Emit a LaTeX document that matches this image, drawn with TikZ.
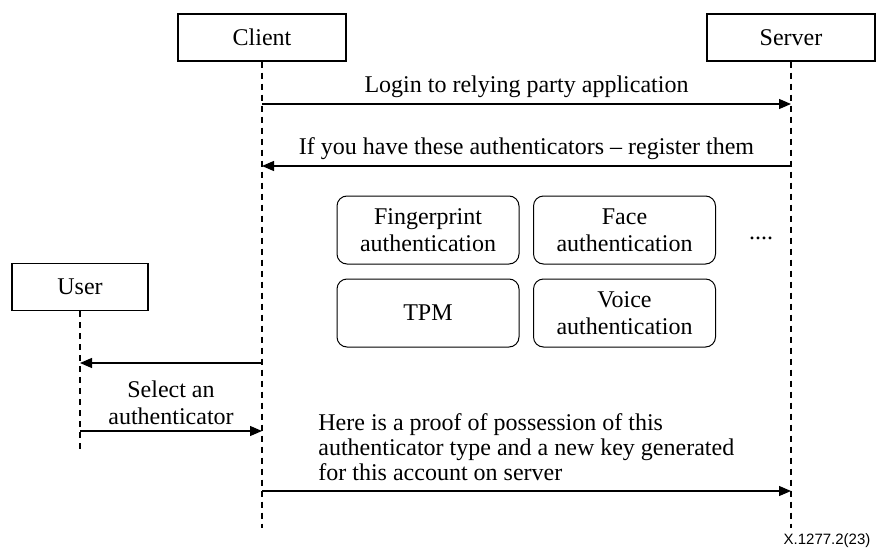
\documentclass[tikz,border=0pt]{standalone}
\usepackage{fontspec}
\setmainfont{Liberation Serif}
\setsansfont{Liberation Sans}
\usetikzlibrary{arrows.meta}
\tikzset{>={Triangle[length=6pt,width=5pt]}}
\tikzset{
  party/.style={draw, line width=0.6pt, minimum height=23.5pt, inner sep=0pt},
  lifeline/.style={dashed, dash pattern=on 3pt off 2.5pt, line width=0.6pt},
  msg/.style={->, line width=0.6pt},
  kind/.style={draw, rounded corners=5pt, line width=0.5pt, minimum width=91pt,
    minimum height=34pt, align=center, inner sep=1pt}
}

\begin{document}
\begin{tikzpicture}[x=0.5pt,y=-0.5pt,font=\fontsize{12}{13.5}\selectfont]
            \useasboundingbox (0,0) rectangle (877,551);
            % parties
            \node[party, minimum width=84pt] (client) at (262,37.5) {Client};
            \node[party, minimum width=84pt] (server) at (791,37.5) {Server};
            \node[party, minimum width=68pt] (user) at (80,287) {User};
            \coordinate (clientend) at (262,528);
            \coordinate (serverend) at (791,528);
            \coordinate (userend) at (80,450);
            \foreach \p in {client,server,user}
                \draw[lifeline] (\p.south) -- (\p end);
            % authenticator kinds
            \node[kind] (finger) at (428,230) {Fingerprint\\authentication};
            \node[kind] (face) at (624.5,230) {Face\\authentication};
            \node[kind] (tpm) at (428,313) {TPM};
            \node[kind] (voice) at (624.5,313) {Voice\\authentication};
            \node (more) at (761,238) {....};
            % messages
            \draw[msg] (client |- 0,104) -- node[above, inner sep=3pt] {Login to relying party application} (server |- 0,104);
            \draw[msg] (server |- 0,166) -- node[above, inner sep=3pt] {If you have these authenticators -- register them} (client |- 0,166);
            \draw[msg] (client |- 0,363) -- (user |- 0,363);
            \draw[msg] (user |- 0,431) -- node[above, align=center, inner sep=3pt] {Select an\\authenticator} (client |- 0,431);
            \draw[msg] (client |- 0,491) -- (server |- 0,491);
            \node[anchor=south west, align=left, inner sep=0pt, font=\fontsize{12}{12.5}\selectfont] (proof) at (318,481) {Here is a proof of possession of this\\authenticator type and a new key generated\\for this account on server};
            \node[font=\sffamily\fontsize{7.5}{9}\selectfont] (tag) at (827,541) {X.1277.2(23)};
\end{tikzpicture}
\end{document}
